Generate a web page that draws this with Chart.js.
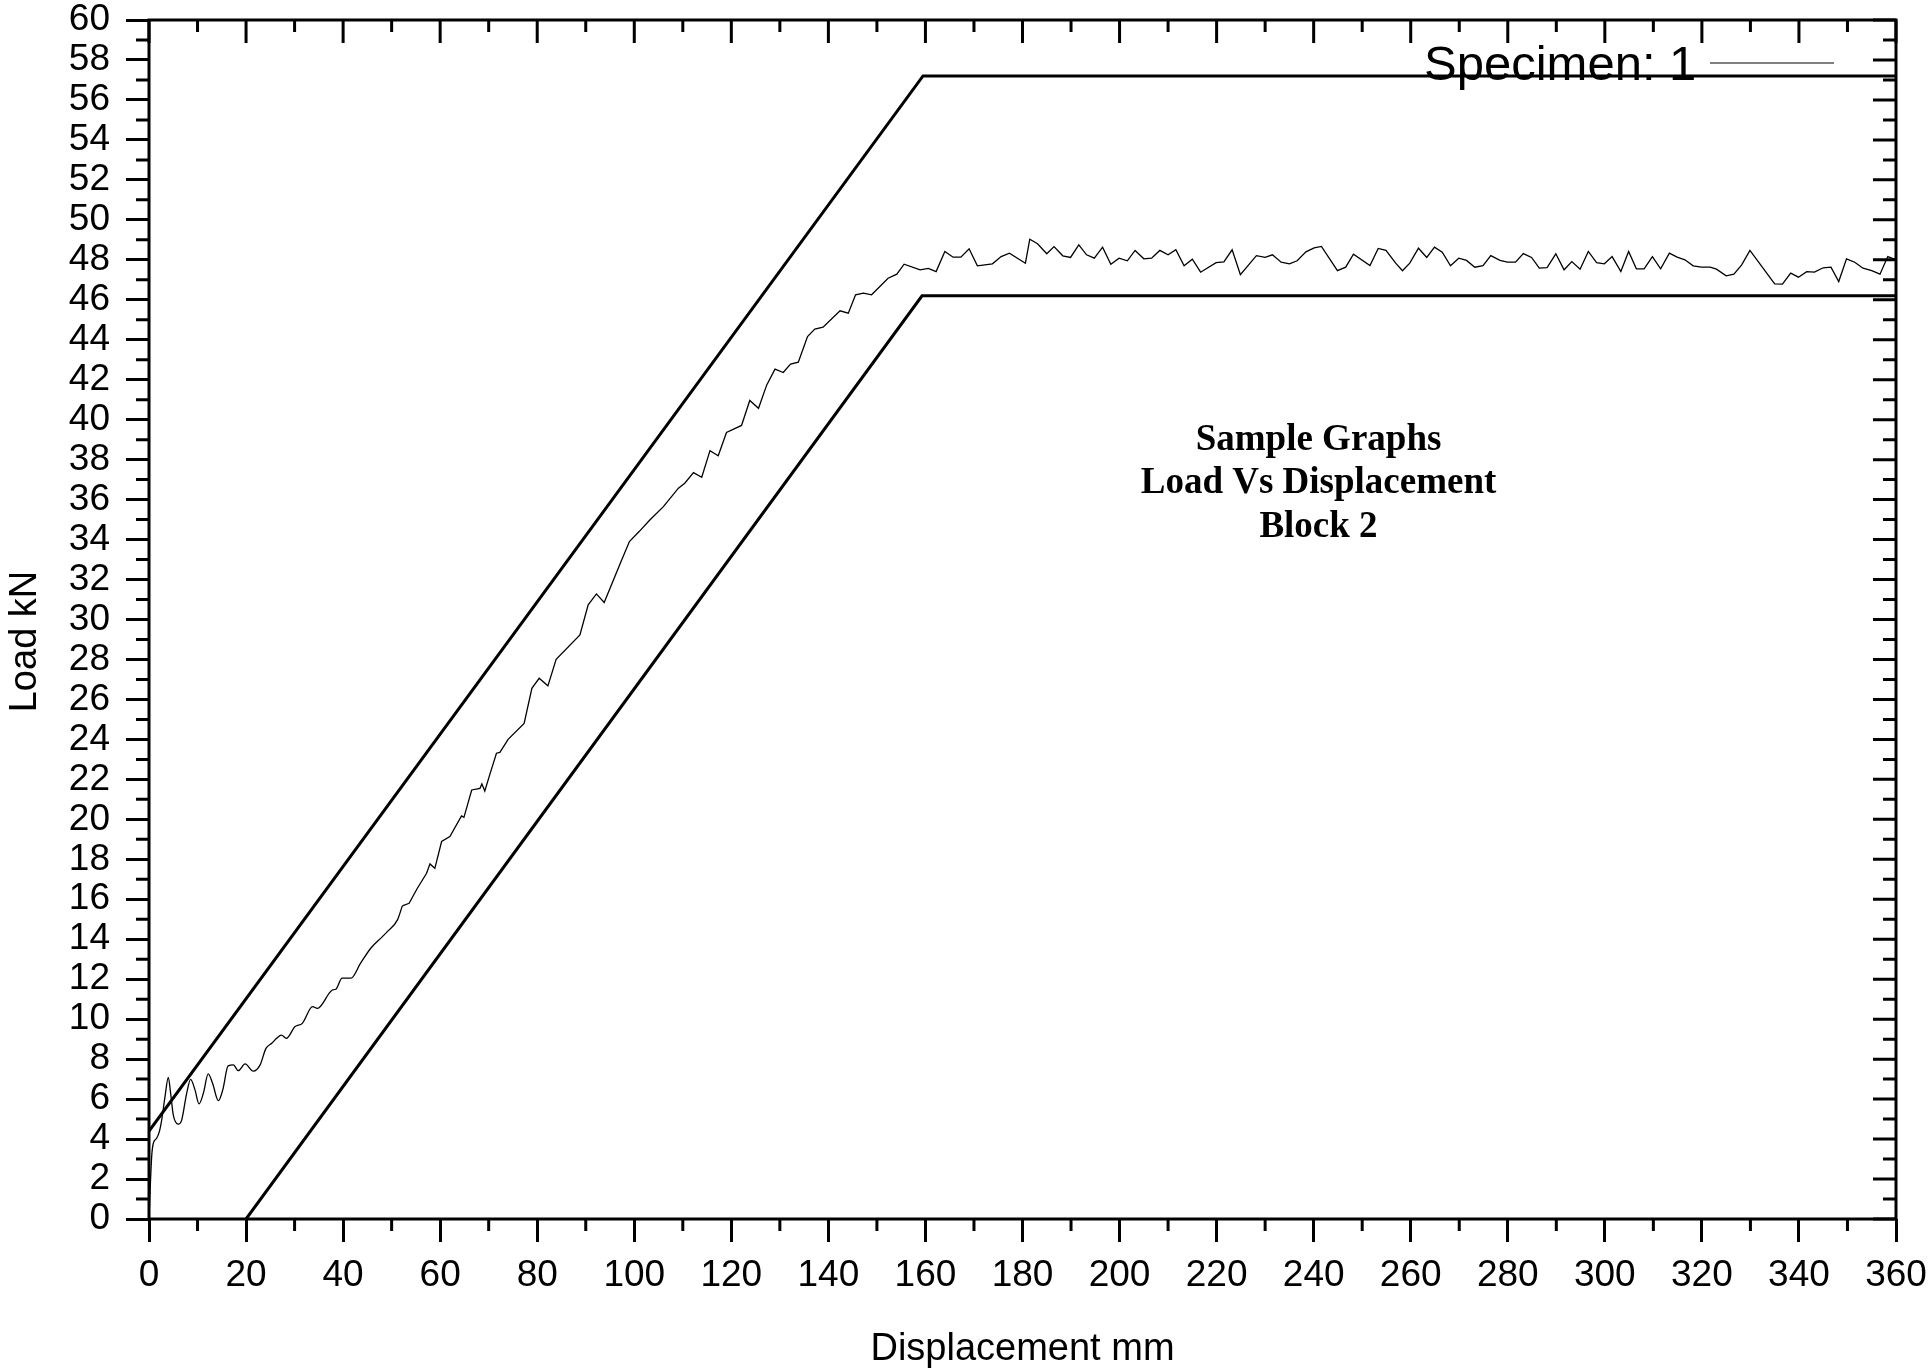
<!DOCTYPE html>
<html>
<head>
<meta charset="utf-8">
<title>Load Vs Displacement</title>
<script src="https://cdn.jsdelivr.net/npm/chart.js@4.4.1/dist/chart.umd.min.js"></script>
<style>
    html, body { margin: 0; padding: 0; background: #fff; }
    .chart-container { position: relative; width: 1928px; height: 1369px; }
</style>
</head>
<body>
<div class="chart-container">
    <canvas id="loadChart"></canvas>
</div>
<script>
// Datos de la curva (Displacement mm / Load kN)
const displacement = [
    0, 0.55, 0.89, 1.58, 2.13, 2.61, 3.3, 3.98, 4.46, 5.01,
    6.04, 6.73, 7.76, 8.58, 9.48, 10.3, 11.2, 12.2, 13.1, 14.3,
    15.2, 16.3, 17.4, 18.4, 19.8, 21.5, 22.9, 24.1, 25.3, 26.3,
    27.3, 28.3, 30.1, 31.6, 33.7, 34.7, 37.8, 38.5, 39.8, 41.6,
    43.6, 45.7, 48.1, 49.1, 51.2, 52.2, 53.6, 55.3, 57.2, 57.9,
    58.9, 60.3, 62.0, 64.4, 64.9, 66.5, 68.2, 68.6, 69.2, 70.3,
    71.6, 72.3, 74.0, 77.3, 78.9, 80.4, 82.2, 83.9, 88.8, 90.5,
    92.2, 93.8, 97.4, 99.0, 101.0, 103.2, 106.0, 109.1, 110.4, 112.2,
    113.9, 115.6, 117.3, 119.0, 122.1, 123.8, 125.6, 127.3, 129.0, 130.7,
    132.2, 133.8, 135.7, 137.2, 138.9, 142.4, 144.1, 145.6, 147.2, 148.9,
    152.3, 154.1, 155.6, 158.9, 160.6, 162.2, 164.0, 165.7, 167.3, 169.0,
    170.7, 173.8, 175.6, 177.3, 180.6, 181.5, 183.1, 185.0, 186.5, 188.3,
    189.9, 191.6, 193.2, 194.8, 196.5, 198.2, 199.9, 201.6, 203.2, 205.0,
    206.6, 208.3, 210.0, 211.6, 213.3, 215.0, 216.7, 219.9, 221.5, 223.2,
    224.9, 228.2, 230.0, 231.5, 233.3, 235.0, 236.6, 238.4, 240.1, 241.6,
    244.9, 246.6, 248.2, 251.6, 253.3, 254.9, 256.9, 258.3, 259.8, 261.6,
    263.3, 264.9, 266.5, 268.2, 269.9, 271.5, 273.2, 274.9, 276.5, 278.4,
    279.9, 281.6, 283.2, 284.9, 286.5, 288.1, 289.9, 291.6, 293.2, 294.9,
    296.6, 298.3, 299.9, 301.5, 303.3, 304.9, 306.5, 308.1, 309.8, 311.5,
    313.3, 314.9, 316.5, 318.2, 319.9, 321.7, 323.0, 325.0, 326.6, 328.2,
    329.9, 335.0, 336.6, 338.3, 339.9, 341.6, 343.2, 345.0, 346.6, 348.2,
    349.8, 351.5, 353.2, 355.0, 356.7, 358.3, 360.0
];
const load = [
    0.03, 3.12, 3.79, 4.04, 4.37, 4.95, 6.12, 7.09, 6.29, 5.2,
    4.75, 4.95, 6.29, 6.99, 6.46, 5.76, 6.29, 7.26, 6.79, 5.92,
    6.46, 7.66, 7.71, 7.42, 7.76, 7.4, 7.71, 8.54, 8.79, 9.04,
    9.2, 9.04, 9.63, 9.79, 10.63, 10.54, 11.46, 11.5, 12.05, 12.05,
    12.8, 13.55, 14.13, 14.38, 14.97, 15.67, 15.8, 16.55, 17.3, 17.77,
    17.55, 18.89, 19.14, 20.17, 20.1, 21.47, 21.55, 21.77, 21.42, 22.3,
    23.31, 23.35, 24.0, 24.8, 26.56, 27.06, 26.68, 28.01, 29.23, 30.73,
    31.28, 30.85, 32.98, 33.9, 34.4, 34.98, 35.65, 36.57, 36.82, 37.35,
    37.12, 38.45, 38.19, 39.36, 39.71, 40.96, 40.57, 41.74, 42.53, 42.36,
    42.78, 42.88, 44.16, 44.53, 44.63, 45.45, 45.33, 46.25, 46.33, 46.25,
    47.08, 47.28, 47.78, 47.5, 47.57, 47.41, 48.42, 48.13, 48.13, 48.55,
    47.7, 47.8, 48.16, 48.33, 47.83, 49.03, 48.8, 48.3, 48.66, 48.2,
    48.12, 48.75, 48.25, 48.08, 48.63, 47.78, 48.08, 47.95, 48.47, 48.05,
    48.08, 48.47, 48.25, 48.5, 47.7, 48.03, 47.38, 47.86, 47.9, 48.5,
    47.25, 48.21, 48.12, 48.25, 47.88, 47.8, 47.95, 48.4, 48.6, 48.67,
    47.46, 47.63, 48.28, 47.71, 48.57, 48.47, 47.83, 47.45, 47.83, 48.58,
    48.12, 48.63, 48.38, 47.7, 48.08, 47.97, 47.63, 47.71, 48.21, 47.97,
    47.88, 47.88, 48.31, 48.12, 47.58, 47.61, 48.3, 47.5, 47.91, 47.53,
    48.42, 47.86, 47.8, 48.16, 47.41, 48.42, 47.55, 47.55, 48.16, 47.55,
    48.33, 48.13, 48.0, 47.7, 47.63, 47.63, 47.53, 47.2, 47.28, 47.75,
    48.47, 46.8, 46.78, 47.33, 47.13, 47.41, 47.38, 47.6, 47.63, 46.91,
    48.05, 47.88, 47.58, 47.46, 47.28, 48.16, 48.0
];
// El tramo inicial (oscilaciones) se ve suavizado en el original
const smoothUntil = 45;

// Líneas envolventes
const upperX = [0, 159.5, 360];
const upperY = [4.4, 57.2, 57.2];
const lowerX = [20, 159.3, 360];
const lowerY = [0, 46.2, 46.2];

// Ejes
const xMin = 0, xMax = 360, xMajor = 20, xMinor = 10;
const yMin = 0, yMax = 60, yMajor = 2, yMinor = 1;

const xTitle = 'Displacement mm';
const yTitle = 'Load kN';
const legendLabel = 'Specimen: 1';
const noteLines = ['Sample Graphs', 'Load Vs Displacement', 'Block 2'];

function toPoints(xs, ys) {
    return xs.map((v, i) => ({ x: v, y: ys[i] }));
}

// Marco, marcas menores, marcas interiores (arriba / derecha) y textos
const frameTicks = {
    id: 'frameTicks',
    afterDraw(chart) {
        const { ctx, chartArea: a, scales: { x, y } } = chart;
        ctx.save();
        ctx.strokeStyle = '#000';
        ctx.lineWidth = 3;
        ctx.strokeRect(a.left, a.top, a.right - a.left, a.bottom - a.top);
        ctx.beginPath();
        for (let v = xMin; v <= xMax; v += xMinor) {
            const px = x.getPixelForValue(v);
            const major = v % xMajor === 0;
            const len = major ? 23 : 12;
            if (!major) {
                ctx.moveTo(px, a.bottom);
                ctx.lineTo(px, a.bottom + len);
            }
            ctx.moveTo(px, a.top);
            ctx.lineTo(px, a.top + len);
        }
        for (let v = yMin; v <= yMax; v += yMinor) {
            const py = y.getPixelForValue(v);
            const major = v % yMajor === 0;
            const len = major ? 23 : 13;
            if (!major) {
                ctx.moveTo(a.left, py);
                ctx.lineTo(a.left - len, py);
            }
            ctx.moveTo(a.right, py);
            ctx.lineTo(a.right - len, py);
        }
        ctx.stroke();

        // Títulos de ejes
        ctx.fillStyle = '#000';
        ctx.font = '38px "Liberation Sans", Arial, sans-serif';
        ctx.textAlign = 'center';
        ctx.textBaseline = 'alphabetic';
        ctx.fillText(xTitle, (a.left + a.right) / 2, a.bottom + 141);
        ctx.save();
        ctx.translate(36, (a.top + a.bottom) / 2 + 22);
        ctx.rotate(-Math.PI / 2);
        ctx.fillText(yTitle, 0, 0);
        ctx.restore();

        // Leyenda
        ctx.font = '49px "Liberation Sans", Arial, sans-serif';
        ctx.textAlign = 'left';
        ctx.fillText(legendLabel, a.right - 472, a.top + 60);
        ctx.strokeStyle = '#555';
        ctx.lineWidth = 1.5;
        ctx.beginPath();
        ctx.moveTo(a.right - 186, a.top + 43);
        ctx.lineTo(a.right - 62, a.top + 43);
        ctx.stroke();

        // Texto de anotación
        ctx.font = 'bold 37px "Liberation Serif", "Times New Roman", serif';
        ctx.textAlign = 'center';
        const cx = x.getPixelForValue(241);
        const baseY = y.getPixelForValue(38.5);
        noteLines.forEach((line, i) => {
            ctx.fillText(line, cx, baseY + i * 43.5);
        });
        ctx.restore();
    }
};

function noEdgePadding(scale) {
    scale.paddingTop = 0;
    scale.paddingBottom = 0;
    scale.paddingLeft = 0;
    scale.paddingRight = 0;
}

function initializeChart() {
    const ctx = document.getElementById('loadChart');
    const tickFont = { family: '"Liberation Sans", Arial, sans-serif', size: 37 };
    const curve = { showLine: true, borderColor: '#000', pointRadius: 0 };

    new Chart(ctx, {
        type: 'scatter',
        data: {
            datasets: [
                Object.assign({ label: 'Upper', data: toPoints(upperX, upperY), borderWidth: 3, tension: 0 }, curve),
                Object.assign({ label: 'Lower', data: toPoints(lowerX, lowerY), borderWidth: 3, tension: 0 }, curve),
                Object.assign({
                    label: legendLabel,
                    data: toPoints(displacement.slice(0, smoothUntil + 1), load.slice(0, smoothUntil + 1)),
                    borderWidth: 1.3,
                    cubicInterpolationMode: 'monotone'
                }, curve),
                Object.assign({
                    label: legendLabel,
                    data: toPoints(displacement.slice(smoothUntil), load.slice(smoothUntil)),
                    borderWidth: 1.3,
                    tension: 0
                }, curve)
            ]
        },
        options: {
            responsive: true,
            maintainAspectRatio: false,
            animation: false,
            layout: { padding: { top: 20, right: 32, left: 0, bottom: 0 } },
            plugins: {
                legend: { display: false },
                tooltip: { enabled: false }
            },
            scales: {
                x: {
                    type: 'linear',
                    min: xMin,
                    max: xMax,
                    afterFit: (scale) => { scale.height = 150; noEdgePadding(scale); },
                    border: { display: false },
                    grid: { drawOnChartArea: false, tickLength: 23, color: '#000', lineWidth: 3 },
                    ticks: { stepSize: xMajor, color: '#000', font: tickFont, padding: 12, maxRotation: 0, autoSkip: false }
                },
                y: {
                    type: 'linear',
                    min: yMin,
                    max: yMax,
                    afterFit: (scale) => { scale.width = 149; noEdgePadding(scale); },
                    border: { display: false },
                    grid: { drawOnChartArea: false, tickLength: 23, color: '#000', lineWidth: 3 },
                    ticks: { stepSize: yMajor, color: '#000', font: tickFont, padding: 16, autoSkip: false }
                }
            }
        },
        plugins: [frameTicks]
    });
}

document.addEventListener('DOMContentLoaded', function() {
    initializeChart();
});
</script>
</body>
</html>
